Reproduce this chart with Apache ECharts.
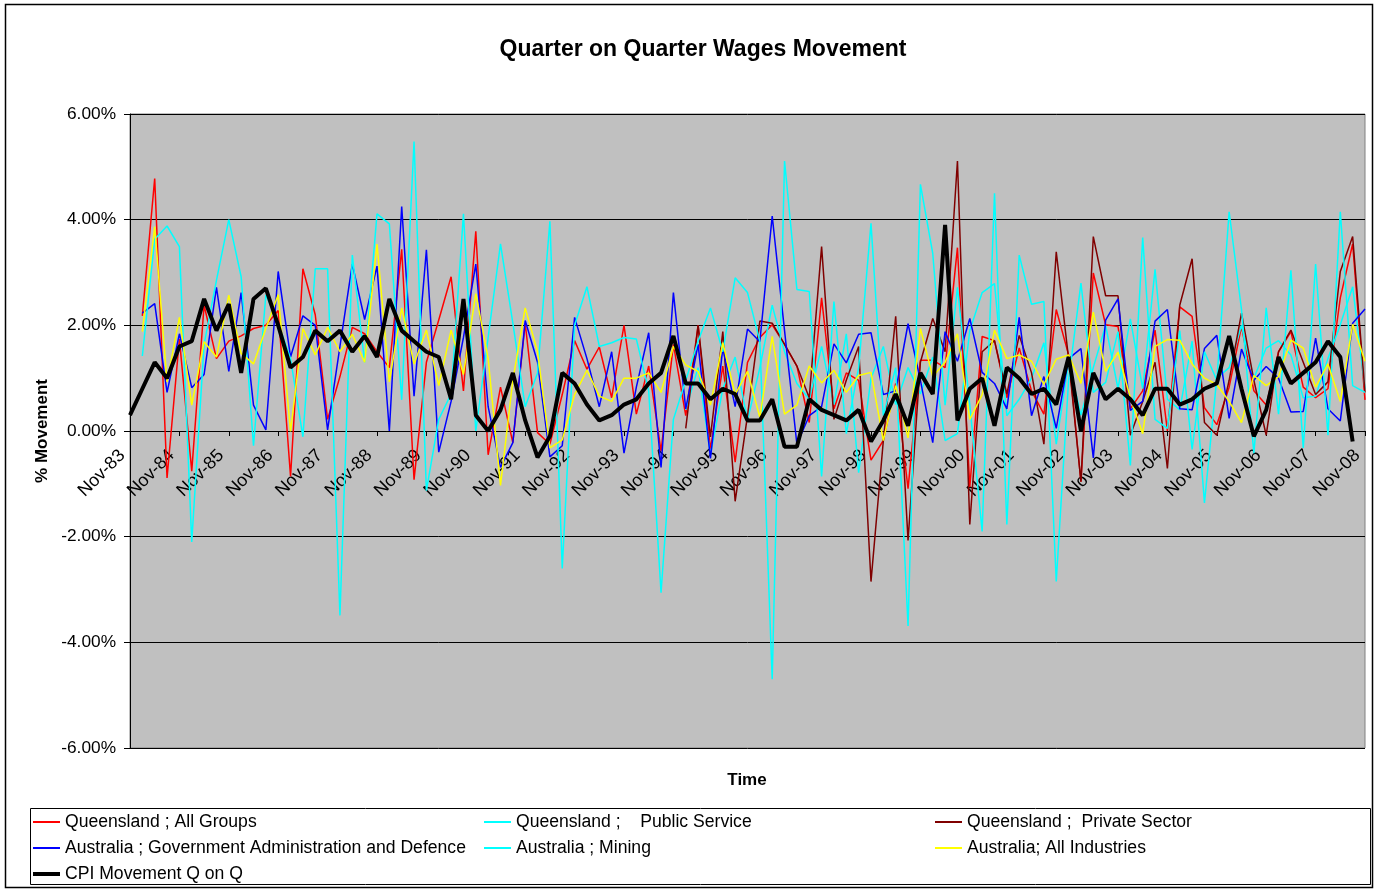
<!DOCTYPE html>
<html><head><meta charset="utf-8">
<script src="https://cdn.jsdelivr.net/npm/echarts@6/dist/echarts.min.js"></script>
<style>html,body{margin:0;padding:0;background:#fff}#chart{width:1379px;height:890px}</style>
</head><body><div id="chart"></div>
<script>
const categories = [
 'Nov-83','Feb-84','May-84','Aug-84','Nov-84','Feb-85','May-85','Aug-85','Nov-85','Feb-86','May-86','Aug-86',
 'Nov-86','Feb-87','May-87','Aug-87','Nov-87','Feb-88','May-88','Aug-88','Nov-88','Feb-89','May-89','Aug-89',
 'Nov-89','Feb-90','May-90','Aug-90','Nov-90','Feb-91','May-91','Aug-91','Nov-91','Feb-92','May-92','Aug-92',
 'Nov-92','Feb-93','May-93','Aug-93','Nov-93','Feb-94','May-94','Aug-94','Nov-94','Feb-95','May-95','Aug-95',
 'Nov-95','Feb-96','May-96','Aug-96','Nov-96','Feb-97','May-97','Aug-97','Nov-97','Feb-98','May-98','Aug-98',
 'Nov-98','Feb-99','May-99','Aug-99','Nov-99','Feb-00','May-00','Aug-00','Nov-00','Feb-01','May-01','Aug-01',
 'Nov-01','Feb-02','May-02','Aug-02','Nov-02','Feb-03','May-03','Aug-03','Nov-03','Feb-04','May-04','Aug-04',
 'Nov-04','Feb-05','May-05','Aug-05','Nov-05','Feb-06','May-06','Aug-06','Nov-06','Feb-07','May-07','Aug-07',
 'Nov-07','Feb-08','May-08','Aug-08','Nov-08'];

const yTicks = [-6, -4, -2, 0, 2, 4, 6];

const qldAllGroups = [null,2.18,4.78,-0.89,1.74,-0.76,2.38,1.37,1.7,1.8,
 1.94,2.0,2.28,-0.86,3.07,2.2,0.22,1.03,1.96,1.84,
 1.5,1.2,3.44,-0.92,1.3,2.1,2.92,0.76,3.78,-0.45,
 0.83,-0.22,2.04,-0.03,-0.25,0.69,1.71,1.17,1.59,0.63,
 2.0,0.32,1.23,-0.38,1.64,0.29,2.0,-0.35,1.23,-0.59,
 1.3,1.77,2.01,1.64,1.23,0.16,2.52,0.42,1.1,0.96,
 -0.55,-0.18,0.9,-1.09,1.34,1.34,1.2,3.47,-1.06,1.79,
 1.71,0.63,1.57,0.76,0.32,2.3,1.44,-0.96,2.99,2.01,
 1.98,0.42,0.76,1.91,0.0,2.35,2.17,0.44,0.12,0.83,
 1.98,0.76,0.49,1.5,1.88,0.83,0.63,0.8,2.52,3.54,
 0.59];

const qldPublicService = [null,null,null,null,null,null,null,null,null,null,
 null,null,null,null,null,null,null,null,null,null,
 null,null,null,null,null,null,null,null,null,null,
 null,null,null,null,null,null,null,null,null,null,
 null,null,null,null,null,0.4,1.2,-0.45,0.8,1.4,
 0.2,1.2,2.38,1.5,0.9,0.6,1.6,0.5,1.84,-0.79,
 1.0,1.6,0.5,1.2,0.7,1.4,-0.18,-0.05,1.9,2.62,
 2.79,0.29,0.6,1.0,1.67,-0.25,1.3,0.3,1.2,2.0,
 0.8,2.12,0.8,3.06,0.6,0.4,1.7,-1.36,1.0,1.2,
 2.0,1.0,1.57,1.71,1.44,0.63,0.66,1.37,2.01,2.73,
 0.8];

const qldPrivateSector = [null,null,null,null,null,null,null,null,null,null,
 null,null,null,null,null,null,null,null,null,null,
 null,null,null,null,null,null,null,null,null,null,
 null,null,null,null,null,null,null,null,null,null,
 null,null,null,null,null,0.05,2.0,-0.11,1.88,-1.33,
 0.29,2.08,2.04,1.64,1.23,0.63,3.49,0.22,0.96,1.6,
 -2.85,-0.18,2.17,-2.07,1.3,2.13,1.5,5.11,-1.77,1.5,
 1.71,0.7,1.81,1.1,-0.25,3.39,1.37,-0.96,3.68,2.56,
 2.56,-0.08,0.56,1.3,-0.71,2.38,3.26,0.16,-0.08,0.96,
 2.23,0.96,-0.08,1.5,1.91,1.3,0.69,0.93,3.02,3.68,
 0.73];

const ausGovAdmin = [null,2.23,2.41,0.73,1.84,0.82,1.07,2.72,1.13,2.62,
 0.49,0.02,3.02,1.4,2.18,2.0,0.02,1.6,3.16,2.11,
 3.12,0.0,4.25,0.66,3.43,-0.4,0.56,1.77,3.16,0.46,
 -0.69,-0.22,2.09,1.3,-0.49,-0.28,2.15,1.37,0.46,1.5,
 -0.42,0.83,1.86,-0.69,2.62,0.42,1.64,-0.52,1.57,0.46,
 1.93,1.69,4.07,1.9,-0.25,0.29,0.46,1.65,1.29,1.83,
 1.86,0.69,0.76,2.03,0.96,-0.22,1.88,1.32,2.13,1.11,
 0.9,0.42,2.15,0.29,1.03,0.05,1.37,1.56,-0.51,2.1,
 2.5,0.39,0.56,2.08,2.3,0.42,0.4,1.56,1.81,0.24,
 1.55,0.96,1.22,1.0,0.36,0.37,1.76,0.42,0.19,2.04,
 2.31];

const ausMining = [null,1.42,3.63,3.88,3.49,-2.1,1.64,2.85,4.0,2.92,
 -0.28,2.58,2.04,1.37,-0.11,3.07,3.07,-3.49,3.33,1.3,
 4.11,3.92,0.59,5.48,-1.13,0.22,0.7,4.11,0.0,1.77,
 3.54,2.04,0.46,1.1,3.97,-2.6,2.0,2.73,1.6,1.67,
 1.77,1.74,0.76,-3.06,0.22,0.96,1.7,2.33,1.5,2.9,
 2.62,1.7,-4.7,5.11,2.68,2.64,-0.86,2.45,-0.05,1.2,
 3.93,0.29,1.2,-3.69,4.67,3.36,0.49,2.72,0.49,-1.9,
 4.5,-1.77,3.33,2.4,2.45,-2.85,0.96,2.8,0.73,0.92,
 1.88,-0.65,3.66,0.22,0.05,1.9,-0.35,1.5,0.96,4.15,
 2.3,-0.42,2.33,0.32,3.04,-0.32,3.16,-0.08,4.15,0.86,
 0.73];

const ausAllIndustries = [null,1.88,3.87,0.93,2.15,0.49,1.69,1.4,2.57,1.47,
 1.27,1.94,2.58,-0.01,1.94,1.44,1.96,1.5,1.83,1.3,
 3.54,0.93,2.33,1.27,1.91,0.86,1.91,1.07,2.6,1.37,
 -1.03,0.96,2.33,1.5,-0.32,-0.17,0.69,1.15,0.66,0.56,
 1.0,1.0,1.1,0.73,1.6,1.25,1.13,0.49,1.67,0.69,
 1.13,0.26,1.79,0.32,0.49,1.23,0.91,1.15,0.73,1.05,
 1.11,-0.18,0.86,-0.13,1.94,1.03,1.3,1.84,0.22,0.69,
 1.91,1.37,1.44,1.32,0.88,1.36,1.44,0.9,2.25,1.13,
 1.49,0.63,-0.05,1.6,1.73,1.72,1.27,1.0,0.88,0.56,
 0.16,1.05,0.86,1.03,1.72,1.57,0.83,1.27,0.56,2.02,
 1.32];

const cpiMovement = [0.3,0.8,1.3,1.0,1.6,1.7,2.5,1.9,2.4,1.1,
 2.5,2.7,2.0,1.2,1.4,1.9,1.7,1.9,1.5,1.8,
 1.4,2.5,1.9,1.7,1.5,1.4,0.6,2.5,0.3,0.0,
 0.4,1.1,0.2,-0.5,-0.1,1.1,0.9,0.5,0.2,0.3,
 0.5,0.6,0.9,1.1,1.8,0.9,0.9,0.6,0.8,0.7,
 0.2,0.2,0.6,-0.3,-0.3,0.6,0.4,0.3,0.2,0.4,
 -0.2,0.2,0.7,0.1,1.1,0.7,3.9,0.2,0.8,1.0,
 0.1,1.2,1.0,0.7,0.8,0.5,1.4,0.0,1.1,0.6,
 0.8,0.6,0.3,0.8,0.8,0.5,0.6,0.8,0.9,1.8,
 0.8,-0.1,0.4,1.4,0.9,1.1,1.3,1.7,1.4,-0.2,
 null];

const seriesNames = ['Queensland ; All Groups','Queensland ;    Public Service','Queensland ;  Private Sector',
 'Australia ; Government Administration and Defence','Australia ; Mining','Australia; All Industries','CPI Movement Q on Q'];
const seriesData = [qldAllGroups, qldPublicService, qldPrivateSector, ausGovAdmin, ausMining, ausAllIndustries, cpiMovement];
const seriesColors = ['#FF0000','#00FFFF','#800000','#0000FF','#00FFFF','#FFFF00','#000000'];
const seriesWidths = [1.5,1.5,1.5,1.5,1.5,1.5,4];

const FONT = 'Arial, "Liberation Sans", sans-serif';
const legendPos = [[33,812],[484,812],[935,812],[33,838],[484,838],[935,838],[33,864]];

const chart = echarts.init(document.getElementById('chart'), null, {renderer:'canvas'});
const option = {
  animation: false,
  backgroundColor: '#ffffff',
  textStyle: {fontFamily: FONT},
  grid: {left:130, right:14, top:114, bottom:142, show:true, backgroundColor:'#C0C0C0', borderColor:'#808080', borderWidth:1},
  legend: seriesNames.map((n,i)=>({
    data:[n], left:legendPos[i][0], top:legendPos[i][1] + 1, padding:0, itemGap:0,
    icon:'rect', itemWidth:27, itemHeight: i===6 ? 4 : 2,
    textStyle:{fontSize:17.6, color:'#000', fontFamily:FONT, lineHeight:18},
    selectedMode:false
  })),
  xAxis: {
    type:'category', data:categories, boundaryGap:false, position:'bottom', offset:-317,
    axisLine:{show:true, onZero:false, lineStyle:{color:'#000', width:1}},
    axisTick:{show:true, interval:3, length:5, lineStyle:{color:'#000'}},
    axisLabel:{interval:3, rotate:45, fontSize:18, color:'#000', fontFamily:FONT, margin:14, padding:[0,11,0,0]},
    splitLine:{show:false}
  },
  yAxis: {
    type:'value', min:yTicks[0], max:yTicks[yTicks.length-1], interval:2,
    axisLine:{show:true, lineStyle:{color:'#000'}},
    axisTick:{show:true, length:6, lineStyle:{color:'#000'}},
    axisLabel:{formatter:v=>v.toFixed(2)+'%', fontSize:17.3, color:'#000', fontFamily:FONT, margin:14},
    splitLine:{show:true, lineStyle:{color:'#000', width:1}},
    name:'% Movement', nameLocation:'middle', nameGap:79,
    nameTextStyle:{fontWeight:'bold', fontSize:17, color:'#000', fontFamily:FONT}
  },
  series: seriesNames.map((n,i)=>({
    name:n, type:'line', data:seriesData[i], showSymbol:false, symbol:'none',
    lineStyle:{color:seriesColors[i], width:seriesWidths[i]},
    itemStyle:{color:seriesColors[i]},
    connectNulls:false, z: 2 + i
  })),
  graphic: [
    {type:'rect', shape:{x:5.5, y:4.5, width:1367, height:883}, style:{fill:'none', stroke:'#000', lineWidth:1.5}, silent:true},
    {type:'rect', shape:{x:30.5, y:808.5, width:1340, height:76}, style:{fill:'none', stroke:'#000', lineWidth:1}, silent:true},
    {type:'text', x:703, y:50, style:{text:'Quarter on Quarter Wages Movement', font:'bold 23px '+FONT, fill:'#000', align:'center', verticalAlign:'middle', textAlign:'center', textVerticalAlign:'middle'}, silent:true},
    {type:'text', x:747, y:780, style:{text:'Time', font:'bold 17px '+FONT, fill:'#000', align:'center', verticalAlign:'middle', textAlign:'center', textVerticalAlign:'middle'}, silent:true}
  ]
};
chart.setOption(option);
</script>
</body></html>
